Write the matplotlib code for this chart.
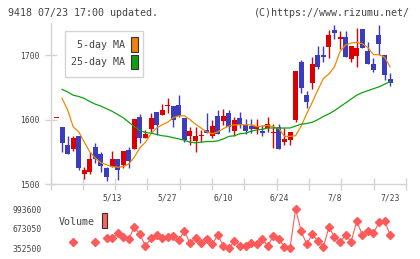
import numpy as np
import matplotlib
matplotlib.use('Agg')
import matplotlib.pyplot as plt
from matplotlib.patches import Rectangle

plt.rcParams['font.family'] = ['DejaVu Sans Mono']

# ---- data ----
date_labels = ['5/13', '5/27', '6/10', '6/24', '7/8', '7/23']
date_pos = [10, 20, 30, 40, 50, 60]

opens = [1603, 1589, 1561, 1554, 1574, 1516, 1519, 1558, 1547, 1525, 1526, 1539, 1529, 1553, 1555, 1604,
         1572, 1586, 1612, 1607, 1621, 1621, 1623, 1602, 1574, 1567, 1575, 1584, 1574, 1605, 1598, 1611,
         1583, 1603, 1592, 1590, 1586, 1583, 1587, 1580, 1589, 1566, 1568, 1600, 1690, 1638, 1657, 1701,
         1701, 1713, 1739, 1725, 1728, 1694, 1699, 1741, 1706, 1687, 1732, 1701, 1663]
closes = [1603, 1563, 1547, 1572, 1525, 1521, 1539, 1539, 1528, 1511, 1539, 1521, 1551, 1535, 1601, 1572,
          1578, 1603, 1591, 1615, 1621, 1600, 1605, 1568, 1582, 1575, 1575, 1580, 1590, 1577, 1605, 1589,
          1600, 1591, 1583, 1586, 1590, 1580, 1593, 1580, 1555, 1570, 1581, 1676, 1649, 1628, 1686, 1682,
          1697, 1732, 1735, 1728, 1697, 1715, 1712, 1712, 1686, 1677, 1718, 1669, 1657]
highs = [1603, 1589, 1574, 1574, 1574, 1526, 1549, 1564, 1550, 1526, 1551, 1539, 1551, 1558, 1601, 1609,
         1584, 1611, 1612, 1624, 1633, 1621, 1638, 1602, 1589, 1589, 1584, 1611, 1600, 1615, 1617, 1615,
         1604, 1612, 1601, 1601, 1601, 1591, 1604, 1593, 1594, 1587, 1581, 1676, 1692, 1645, 1697, 1714,
         1715, 1739, 1747, 1738, 1738, 1715, 1743, 1741, 1720, 1695, 1747, 1701, 1673]
lows = [1603, 1550, 1547, 1552, 1521, 1508, 1516, 1532, 1518, 1504, 1526, 1506, 1525, 1525, 1555, 1564,
        1572, 1581, 1576, 1607, 1610, 1588, 1604, 1566, 1560, 1549, 1566, 1580, 1572, 1577, 1592, 1581,
        1574, 1587, 1578, 1580, 1577, 1575, 1581, 1556, 1555, 1560, 1560, 1597, 1641, 1618, 1648, 1678,
        1690, 1695, 1726, 1710, 1697, 1690, 1682, 1712, 1686, 1674, 1701, 1661, 1652]

ma5 = [np.nan, 1633, 1615, 1589, 1581, 1565, 1550, 1540, 1533, 1530, 1527, 1526, 1527, 1531, 1542, 1556,
       1565, 1578, 1587, 1592, 1596, 1603, 1606, 1606, 1600, 1593, 1587, 1581, 1578, 1581, 1586, 1590,
       1592, 1592, 1592, 1592, 1589, 1590, 1591, 1589, 1586, 1574, 1574, 1575, 1590, 1609, 1627, 1646,
       1664, 1671, 1682, 1706, 1716, 1719, 1720, 1718, 1712, 1701, 1701, 1697, 1682]
ma25 = [np.nan, 1647, 1643, 1638, 1636, 1633, 1628, 1624, 1621, 1617, 1613, 1608, 1603, 1596, 1589, 1583,
        1580, 1579, 1577, 1575, 1574, 1572, 1570, 1568, 1565, 1564, 1565, 1566, 1566, 1567, 1570, 1574,
        1575, 1578, 1579, 1582, 1584, 1585, 1587, 1587, 1587, 1587, 1587, 1590, 1593, 1594, 1596, 1600,
        1605, 1609, 1614, 1620, 1626, 1632, 1638, 1642, 1645, 1648, 1651, 1655, 1659]

volume = [np.nan, np.nan, np.nan, 450400, np.nan, np.nan, np.nan, 460200, np.nan, 515600, 515600, 597200,
          531900, 504200, 704900, 580900, 390000, 515600, 569500, 525400, 541700, 553100, 487900, 634700,
          434100, 525400, 434100, 504200, 417800, 569500, 394900, 352500, 471600, 390000, 390000, 434100,
          417800, 499300, 390000, 558000, 499300, 378600, 352500, 993600, 634700, 417800, 580900, 471600,
          378600, 695100, 541700, 450400, 569500, 460200, 797800, 569500, 634700, 597200, 776600, 797800,
          569500]
vol_ticks = [352500, 673050, 993600]

UP = '#dd0000'
DOWN = '#3c3cbe'
GRAY = '#d4d4d4'
TXT = '#444444'

W, H = 420, 259
fig = plt.figure(figsize=(W / 100, H / 100), dpi=100)

# ---- price panel ----
x0, x1 = -1.08, 62.86
ax = fig.add_axes([50.5 / W, 1 - 184 / H, (406 - 50.5) / W, (184 - 23.1) / H])
ax.set_xlim(x0, x1)
ax.set_ylim(1500, 1750)
for s in ['top', 'right']:
    ax.spines[s].set_visible(False)
for s in ['left', 'bottom']:
    ax.spines[s].set_color(GRAY)
    ax.spines[s].set_linewidth(1)
ax.set_yticks([1500, 1600, 1700])
ax.set_xticks(np.linspace(x0, x1, 12))
ax.set_xticklabels([])
ax.tick_params(axis='both', direction='inout', length=8, width=1, color=GRAY,
               labelsize=5.8, labelcolor=TXT, pad=2)
ax.tick_params(axis='y', pad=4)

idx = np.arange(len(closes))
for i in idx:
    o, c = opens[i], closes[i]
    col = UP if c >= o else DOWN
    ax.vlines(i, lows[i], highs[i], color=col, lw=1, zorder=2)
    h = max(abs(c - o), 1.5)
    ax.bar(i, h, bottom=min(o, c), width=0.9, color=col, lw=0, zorder=3)

ax.plot(idx, ma5, color='#ee8800', lw=0.9, zorder=4)
ax.plot(idx, ma25, color='#11a011', lw=0.9, zorder=4)

for lab, p in zip(date_labels, date_pos):
    ax.text(p, -0.089, lab, transform=ax.get_xaxis_transform(), ha='center', va='center',
            fontsize=5.8, color=TXT)

# ---- volume panel ----
vx = fig.add_axes([50.5 / W, 1 - 252 / H, (406 - 50.5) / W, 47 / H])
vx.set_xlim(x0, x1)
vx.set_ylim(292141, 1058852)
for s in vx.spines.values():
    s.set_visible(False)
vx.set_xticks([])
vx.set_yticks(vol_ticks)
vx.set_yticklabels([str(v) for v in vol_ticks])
vx.tick_params(axis='y', length=0, labelsize=5.8, labelcolor=TXT, pad=6)
vx.patch.set_alpha(0)
vx.plot(idx, volume, color='#ff5a5a', lw=0.8, marker='D', ms=4.2, zorder=3)

# ---- overlay in pixel coords for legends and header ----
ov = fig.add_axes([0, 0, 1, 1])
ov.set_xlim(0, W)
ov.set_ylim(H, 0)
ov.axis('off')
ov.patch.set_alpha(0)

ov.text(8, 12.5, '9418 07/23 17:00 updated.', ha='left', va='center', fontsize=7.2, color=TXT)
ov.text(410, 12.5, '(C)https://www.rizumu.net/', ha='right', va='center', fontsize=7.2, color=TXT)

ov.add_patch(Rectangle((65, 30.7), 78.3, 46, facecolor='white', edgecolor=GRAY, lw=1, zorder=5))
ov.text(125, 45, '5-day MA', ha='right', va='center', fontsize=7.2, color=TXT, zorder=6)
ov.text(125, 62, '25-day MA', ha='right', va='center', fontsize=7.2, color=TXT, zorder=6)
ov.add_patch(Rectangle((131, 37.3), 6.5, 14.4, facecolor='#f08010', edgecolor='#333333', lw=0.8, zorder=6))
ov.add_patch(Rectangle((131, 54.5), 6.5, 14.4, facecolor='#10a010', edgecolor='#333333', lw=0.8, zorder=6))

ov.text(94.3, 222, 'Volume', ha='right', va='center', fontsize=7.2, color=TXT)
ov.add_patch(Rectangle((102, 213), 5.3, 15, facecolor='#ff6060', edgecolor='#333333', lw=0.8))

fig.savefig('out.png', dpi=100)
